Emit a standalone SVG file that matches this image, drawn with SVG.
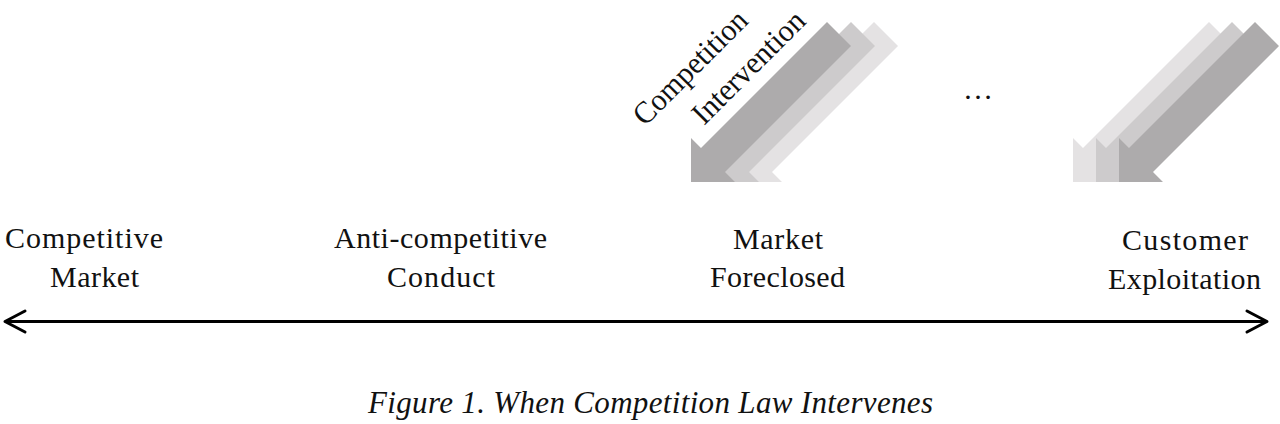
<svg xmlns="http://www.w3.org/2000/svg" xmlns:xlink="http://www.w3.org/1999/xlink" width="1280" height="424" viewBox="0 0 1280 424">
  <style>
    .lbl { font-family: "Liberation Serif", "Times New Roman", serif; font-size: 30px; fill: #111; }
    .rot { font-family: "Liberation Serif", "Times New Roman", serif; font-size: 31px; fill: #111; }
    .cap { font-family: "Liberation Serif", "Times New Roman", serif; font-size: 31px; font-style: italic; fill: #111; }
    .axis { stroke: #000; stroke-width: 3; fill: none; stroke-linecap: round; stroke-linejoin: round; }
    .dark { fill: #adabac; }
    .mid { fill: #cdcbcc; }
    .light { fill: #e4e2e3; }
  </style>
  <defs>
    <polygon id="blk" points="0,0 0,-44 10,-34 136,-160 160,-136 34,-10 44,0"/>
  </defs>
  <rect width="1280" height="424" fill="#fff"/>

  <g id="intervention-arrows">
    <use xlink:href="#blk" href="#blk" x="738" y="182" class="light"/>
    <use xlink:href="#blk" href="#blk" x="715" y="182" class="mid"/>
    <use xlink:href="#blk" href="#blk" x="691" y="182" class="dark"/>
    <text class="rot" transform="translate(645,127) rotate(-45)" textLength="148" lengthAdjust="spacingAndGlyphs">Competition</text>
    <text class="rot" transform="translate(704,126) rotate(-45)" textLength="146" lengthAdjust="spacingAndGlyphs">Intervention</text>
  </g>

  <g id="ellipsis">
    <text class="lbl" x="978" y="99" text-anchor="middle" font-size="32">…</text>
  </g>

  <g id="exploitation-arrows">
    <use xlink:href="#blk" href="#blk" x="1073" y="182" class="light"/>
    <use xlink:href="#blk" href="#blk" x="1096" y="182" class="mid"/>
    <use xlink:href="#blk" href="#blk" x="1119" y="182" class="dark"/>
  </g>

  <g id="competitive-market">
    <text class="lbl" x="5" y="248" textLength="158" lengthAdjust="spacing">Competitive</text>
    <text class="lbl" x="50" y="287" textLength="89" lengthAdjust="spacing">Market</text>
  </g>
  <g id="anti-competitive-conduct">
    <text class="lbl" x="334" y="248" textLength="213" lengthAdjust="spacing">Anti-competitive</text>
    <text class="lbl" x="387" y="287" textLength="108" lengthAdjust="spacing">Conduct</text>
  </g>
  <g id="market-foreclosed">
    <text class="lbl" x="733" y="249" textLength="90" lengthAdjust="spacing">Market</text>
    <text class="lbl" x="710" y="287" textLength="135" lengthAdjust="spacing">Foreclosed</text>
  </g>
  <g id="customer-exploitation">
    <text class="lbl" x="1122" y="250" textLength="126" lengthAdjust="spacing">Customer</text>
    <text class="lbl" x="1108" y="289" textLength="153" lengthAdjust="spacing">Exploitation</text>
  </g>

  <g id="connectors">
    <line class="axis" x1="6" y1="321.5" x2="1266" y2="321.5"/>
    <polyline class="axis" points="25,311 5,321.5 25,332"/>
    <polyline class="axis" points="1247,311 1267,321.5 1247,332"/>
  </g>

  <g id="caption">
    <text class="cap" x="368" y="413" textLength="565" lengthAdjust="spacing">Figure 1. When Competition Law Intervenes</text>
  </g>
</svg>
